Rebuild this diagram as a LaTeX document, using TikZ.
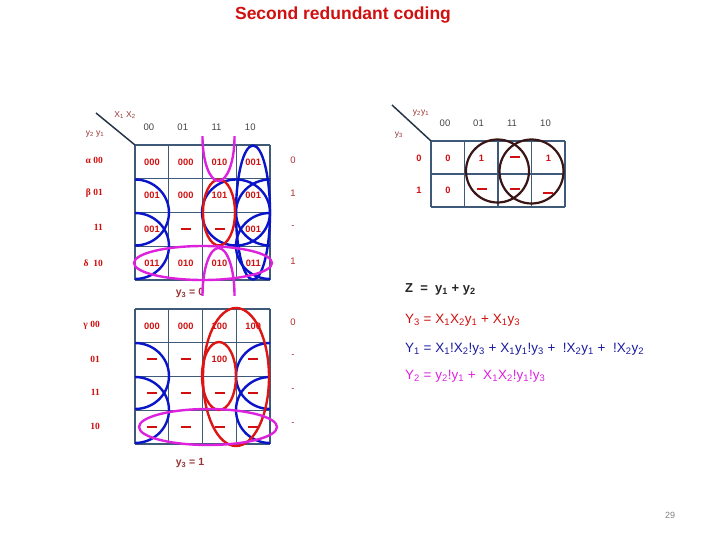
\documentclass[tikz,border=0pt]{standalone}
\usepackage{fontspec}
\setmainfont{Liberation Sans}
\newfontfamily\serifb{Liberation Serif}
\definecolor{gridc}{HTML}{3F5A78}
\definecolor{cred}{HTML}{D01010}
\definecolor{lred}{HTML}{B03030}
\definecolor{dred}{HTML}{993333}
\definecolor{cblue}{HTML}{0A14C8}
\definecolor{cmag}{HTML}{DD22DD}
\definecolor{ered}{HTML}{DD1515}
\definecolor{zcirc}{HTML}{3A1515}
\definecolor{hdr}{HTML}{444444}
\definecolor{eqblue}{HTML}{1A1AA0}
\newcommand\sbs[1]{\textsubscript{#1}}
\newcommand\dsh{\rule[0.25ex]{10pt}{2pt}}
\tikzset{
  gridl/.style={draw=gridc, line width=1.3pt},
  celltxt/.style={font=\fontsize{9.3}{10}\selectfont\bfseries, text=cred, inner sep=0pt},
  rowlab/.style={font=\fontsize{9.5}{10}\selectfont\serifb\bfseries, text=cred, anchor=east, inner sep=0pt},
  outlab/.style={font=\fontsize{9.5}{10}\selectfont, text=lred, inner sep=0pt},
  hdrlab/.style={font=\fontsize{9.5}{10}\selectfont, text=hdr, inner sep=0pt},
  smlab/.style={font=\fontsize{8.5}{9}\selectfont, text=dred, inner sep=0pt},
  bluel/.style={draw=cblue, line width=2.4pt},
  magl/.style={draw=cmag, line width=2.4pt},
  redl/.style={draw=ered, line width=2.4pt},
  zc/.style={draw=zcirc, line width=2.2pt},
  eq/.style={font=\fontsize{13.5}{14}\selectfont, anchor=west, inner sep=0pt},
}
\begin{document}
\begin{tikzpicture}[x=1pt,y=-1pt]
\useasboundingbox (0,0) rectangle (720,540);
% title
\node[font=\fontsize{17.5}{19}\selectfont\bfseries, text=cred] (title) at (343,15) {Second redundant coding};
% ---------- grids
\foreach \i in {0,...,4} {
  \draw[gridl] (135+\i*33.75,145) -- (135+\i*33.75,280);
  \draw[gridl] (135,145+\i*33.75) -- (270,145+\i*33.75);
}
\foreach \i in {0,...,4} {
  \draw[gridl] (135+\i*33.75,309) -- (135+\i*33.75,444);
  \draw[gridl] (135,309+\i*33.75) -- (270,309+\i*33.75);
}
\coordinate (d1a) at (96,113); \coordinate (d1b) at (135,145);
\draw[draw=gridc!60!black, line width=1.5pt] (d1a) -- (d1b);
\node[smlab] (x1x2) at (125,115) {X\sbs1 X\sbs2};
\node[smlab] (y2y1) at (95,134) {y\sbs2 y\sbs1};
\foreach \c/\t in {0/00,1/01,2/11,3/10}
  \node[hdrlab] (hd\c) at (149+\c*33.75,127) {\t};
% row labels
\node[rowlab] (ra) at (103,160) {α 00};
\node[rowlab] (rb) at (103,193) {β 01};
\node[rowlab] (rc) at (103,227) {11};
\node[rowlab] (rd) at (103,263) {δ\ \ 10};
\node[rowlab] (re) at (100,325) {γ 00};
\node[rowlab] (rf) at (100,359) {01};
\node[rowlab] (rg) at (100,392) {11};
\node[rowlab] (rh) at (100,426) {10};
% outputs
\foreach \r/\t in {0/0,1/1,2/-,3/1}
  \node[outlab] (oa\r) at (293,160+\r*33.6) {\t};
\foreach \r/\t in {0/0,1/-,2/-,3/-}
  \node[outlab] (ob\r) at (293,322+\r*34) {\t};
% cell texts
\foreach \c/\r/\t in {0/0/000,1/0/000,2/0/010,3/0/001,
                      0/1/001,1/1/000,2/1/101,3/1/001,
                      0/2/001,1/2/\dsh,2/2/\dsh,3/2/001,
                      0/3/011,1/3/010,2/3/010,3/3/011}
  \node[celltxt] (ta\c\r) at (152+\c*33.75,162+\r*33.75) {\t};
\foreach \c/\r/\t in {0/0/000,1/0/000,2/0/100,3/0/100,
                      0/1/\dsh,1/1/\dsh,2/1/100,3/1/\dsh,
                      0/2/\dsh,1/2/\dsh,2/2/\dsh,3/2/\dsh,
                      0/3/\dsh,1/3/\dsh,2/3/\dsh,3/3/\dsh}
  \node[celltxt] (tb\c\r) at (152+\c*33.75,326+\r*33.75) {\t};
\node[font=\fontsize{10.5}{11}\selectfont\bfseries, text=dred] (y30) at (190,293) {y\sbs3 = 0};
\node[font=\fontsize{10.5}{11}\selectfont\bfseries, text=dred] (y31) at (190,463) {y\sbs3 = 1};
% ---------- groupings top grid
\begin{scope}
  \clip (135,100) rectangle (300,300);
  \draw[bluel] (135,212.5) ellipse[x radius=34, y radius=33];
  \draw[bluel] (135,246) ellipse[x radius=34, y radius=33];
\end{scope}
\begin{scope}
  \clip (100,100) rectangle (270,300);
  \draw[bluel] (270,212.5) ellipse[x radius=34, y radius=33];
  \draw[bluel] (270,246) ellipse[x radius=34, y radius=33];
\end{scope}
\draw[bluel] (253,212.5) ellipse[x radius=17, y radius=67];
\draw[bluel] (236,212.5) ellipse[x radius=34, y radius=33];
\draw[redl] (219,212.5) ellipse[x radius=16, y radius=33];
\draw[magl] (203,263) ellipse[x radius=69, y radius=17];
\begin{scope}
  \clip (150,137) rectangle (260,200);
  \draw[magl] (218.5,137) ellipse[x radius=16, y radius=44];
\end{scope}
\begin{scope}
  \clip (150,230) rectangle (260,295);
  \draw[magl] (218.5,295) ellipse[x radius=16, y radius=47];
\end{scope}
% ---------- groupings bottom grid
\begin{scope}
  \clip (135,300) rectangle (300,460);
  \draw[bluel] (135,376) ellipse[x radius=34, y radius=33];
  \draw[bluel] (135,410) ellipse[x radius=34, y radius=33];
\end{scope}
\begin{scope}
  \clip (100,300) rectangle (270,460);
  \draw[bluel] (270,376) ellipse[x radius=34, y radius=33];
  \draw[bluel] (270,410) ellipse[x radius=34, y radius=33];
\end{scope}
\draw[redl] (236,377) ellipse[x radius=33, y radius=69];
\draw[redl] (219,376) ellipse[x radius=17, y radius=34];
\draw[magl] (208,427) ellipse[x radius=69, y radius=18];
% ---------- Z map
\foreach \i in {0,...,4}
  \draw[gridl] (431+\i*33.5,141) -- (431+\i*33.5,207);
\foreach \i in {0,...,2}
  \draw[gridl] (431,141+\i*33) -- (565,141+\i*33);
\coordinate (d2a) at (392,105); \coordinate (d2b) at (431,141);
\draw[draw=gridc!60!black, line width=1.5pt] (d2a) -- (d2b);
\node[smlab] (zy2y1) at (421,113) {y\sbs2y\sbs1};
\node[smlab] (zy3) at (399,135) {y\sbs3};
\foreach \c/\t in {0/00,1/01,2/11,3/10}
  \node[hdrlab] (zh\c) at (445+\c*33.5,123) {\t};
\node[celltxt] (zr0) at (419,158) {0};
\node[celltxt] (zr1) at (419,190) {1};
\foreach \c/\r/\t in {0/0/0,1/0/1,2/0/\dsh,3/0/1,
                      0/1/0,1/1/\dsh,2/1/\dsh}
  \node[celltxt] (zt\c\r) at (448+\c*33.5,158+\r*32) {\t};
\node[celltxt] (zt31) at (548,194) {\dsh};
\draw[zc] (497.5,171) circle[radius=31.5];
\draw[zc] (531.5,171.5) circle[radius=32];
% ---------- equations
\node[eq, text=black!85, font=\fontsize{13}{14}\selectfont\bfseries] (eqz) at (405,289) {Z\ \ =\ \ y\sbs1 + y\sbs2};
\node[eq, text=cred] (eq3) at (405,320) {Y\sbs3 = X\sbs1X\sbs2y\sbs1 + X\sbs1y\sbs3};
\node[eq, text=eqblue] (eq1) at (405,349) {Y\sbs1 = X\sbs1!X\sbs2!y\sbs3 + X\sbs1y\sbs1!y\sbs3 +\ \ !X\sbs2y\sbs1 +\ \ !X\sbs2y\sbs2};
\node[eq, text=cmag] (eq2) at (405,376) {Y\sbs2 = y\sbs2!y\sbs1 +\ \ X\sbs1X\sbs2!y\sbs1!y\sbs3};
\node[font=\fontsize{9}{10}\selectfont, text=gray] (pg) at (670,515) {29};
\end{tikzpicture}
\end{document}
